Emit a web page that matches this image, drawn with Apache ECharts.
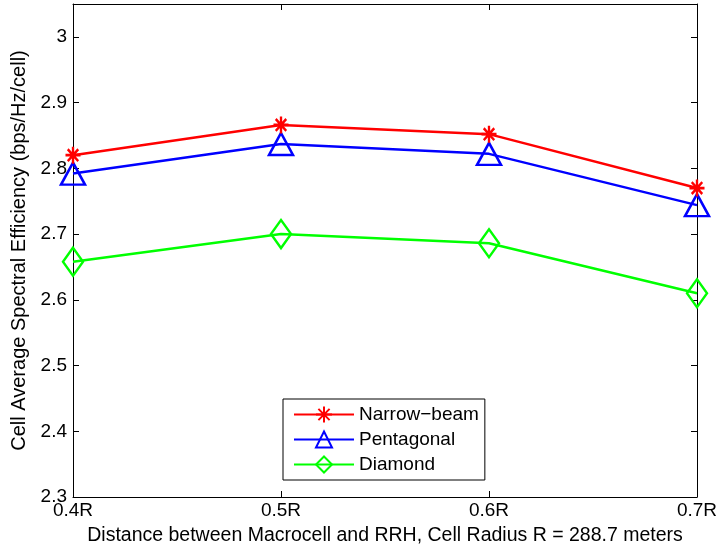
<!DOCTYPE html>
<html lang="en">
<head>
<meta charset="UTF-8">
<title>Cell Average Spectral Efficiency</title>
<script src="https://cdn.jsdelivr.net/npm/echarts@6/dist/echarts.min.js"></script>
<style>
  html, body { margin: 0; padding: 0; background: #fff; }
  #container { width: 721px; height: 555px; }
</style>
</head>
<body>
<div id="container"></div>
<script type="text/javascript">
// distance between macrocell and RRH (in units of R)
var distances = [0.4, 0.5, 0.6, 0.7];
var narrowBeam = [2.820, 2.866, 2.852, 2.770];
var pentagonal = [2.792, 2.837, 2.822, 2.744];
var diamond = [2.658, 2.700, 2.686, 2.610];
var yTicks = [2.3, 2.4, 2.5, 2.6, 2.7, 2.8, 2.9, 3];

var font = 'Liberation Sans';
var asterisk = 'path://M10,0L10,20M0,10L20,10M3,3L17,17M3,17L17,3';

function pairs(vals) {
    var out = [];
    for (var i = 0; i < distances.length; i++) out.push([distances[i], vals[i]]);
    return out;
}

var dom = document.getElementById('container');
var myChart = echarts.init(dom, null, {renderer: 'canvas'});

// matlab style box: ticks inside on all four sides
function boxAxis(pos, min, max) {
    return {
        type: 'value', position: pos, min: min, max: max, interval: 0.1,
        axisLine: {show: true, onZero: false, lineStyle: {color: '#000', width: 1}},
        axisTick: {show: true, inside: true, length: 6, lineStyle: {color: '#000'}},
        axisLabel: {show: false},
        splitLine: {show: false}
    };
}

var option = {
    animation: false,
    textStyle: {fontFamily: font},
    grid: {left: 73, top: 4, right: 24, bottom: 58, show: false},
    legend: {
        orient: 'vertical',
        left: 283,
        top: 399,
        padding: [6, 6, 6, 10],
        itemGap: 6,
        itemWidth: 60,
        itemHeight: 20,
        borderColor: '#000',
        borderWidth: 1,
        backgroundColor: '#fff',
        textStyle: {fontFamily: font, fontSize: 19, color: '#000'},
        data: ['Narrow\u2212beam', 'Pentagonal', 'Diamond']
    },
    xAxis: [{
        type: 'value',
        min: 0.4,
        max: 0.7,
        interval: 0.1,
        name: 'Distance between Macrocell and RRH, Cell Radius R = 288.7 meters',
        nameLocation: 'middle',
        nameGap: 29,
        nameTextStyle: {fontFamily: font, fontSize: 19.5, color: '#000'},
        axisLine: {show: true, onZero: false, lineStyle: {color: '#000', width: 1}},
        axisTick: {show: true, inside: true, length: 6, lineStyle: {color: '#000'}},
        axisLabel: {
            margin: 4, fontSize: 19, color: '#000',
            formatter: function (v) { return v.toFixed(1) + 'R'; }
        },
        splitLine: {show: false}
    }, boxAxis('top', 0.4, 0.7)],
    yAxis: [{
        type: 'value',
        min: 2.3,
        max: 3.05,
        interval: 0.1,
        name: 'Cell Average Spectral Efficiency (bps/Hz/cell)',
        nameLocation: 'middle',
        nameGap: 44,
        nameTextStyle: {fontFamily: font, fontSize: 20, color: '#000'},
        axisLine: {show: true, onZero: false, lineStyle: {color: '#000', width: 1}},
        axisTick: {show: true, inside: true, length: 6, lineStyle: {color: '#000'}},
        axisLabel: {
            margin: 6, fontSize: 19, color: '#000', showMaxLabel: false,
            formatter: function (v) {
                for (var i = 0; i < yTicks.length; i++) {
                    if (Math.abs(v - yTicks[i]) < 1e-6) return String(yTicks[i]);
                }
                return '';
            }
        },
        splitLine: {show: false}
    }, boxAxis('right', 2.3, 3.05)],
    series: [
        {
            name: 'Narrow\u2212beam',
            type: 'line',
            data: pairs(narrowBeam),
            symbol: asterisk,
            symbolSize: [15, 17],
            lineStyle: {color: '#ff0000', width: 2.5},
            itemStyle: {color: 'transparent', borderColor: '#ff0000', borderWidth: 2.5},
            z: 4
        },
        {
            name: 'Pentagonal',
            type: 'line',
            data: pairs(pentagonal),
            symbol: 'triangle',
            symbolSize: [24, 22],
            lineStyle: {color: '#0000ff', width: 2.5},
            itemStyle: {color: 'transparent', borderColor: '#0000ff', borderWidth: 2.5},
            z: 3
        },
        {
            name: 'Diamond',
            type: 'line',
            data: pairs(diamond),
            symbol: 'diamond',
            symbolSize: [20, 28],
            lineStyle: {color: '#00ff00', width: 2.5},
            itemStyle: {color: 'transparent', borderColor: '#00ff00', borderWidth: 2.5},
            z: 2
        }
    ]
};

if (option && typeof option === 'object') {
    myChart.setOption(option, true);
}
</script>
</body>
</html>
